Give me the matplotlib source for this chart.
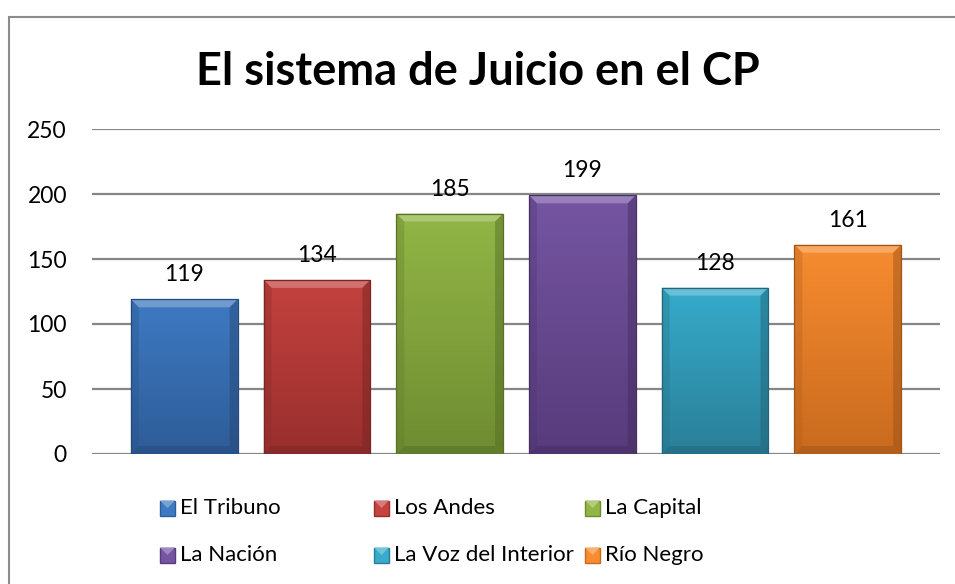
import numpy as np
import matplotlib
matplotlib.use("Agg")
import matplotlib.pyplot as plt
from matplotlib.patches import Polygon, Rectangle
from matplotlib.colors import to_rgb, LinearSegmentedColormap

plt.rcParams['font.family'] = ['Lato', 'DejaVu Sans']

title = "El sistema de Juicio en el CP"
series = ["El Tribuno", "Los Andes", "La Capital", "La Nación", "La Voz del Interior", "Río Negro"]
values = [119, 134, 185, 199, 128, 161]
yticks = [0, 50, 100, 150, 200, 250]
top_colors = ["#3E7AC2", "#C4423F", "#92B646", "#7555A2", "#36ABCB", "#F78C30"]
bot_colors = ["#2E5C98", "#982F2D", "#6E8C31", "#573B7B", "#2A7F98", "#C86A1E"]

W, H, DPI = 955, 584, 100
fig = plt.figure(figsize=(W / DPI, H / DPI), dpi=DPI)
fig.patch.set_facecolor("white")

# outer chart border
fig.patches.append(Rectangle((9 / W, 0 - 0.1), 2.0, 1 - 16.5 / H + 0.1, transform=fig.transFigure,
                             fill=False, edgecolor="#8c8c8c", linewidth=1.5, zorder=0))

L, R, T, B = 92, 940, 129, 454
ax = fig.add_axes([L / W, 1 - B / H, (R - L) / W, (B - T) / H])
ax.set_xlim(-0.695, len(values) - 1 + 0.695)
ax.set_ylim(0, 250)
for s in ax.spines.values():
    s.set_visible(False)
ax.set_xticks([])
ax.set_yticks(yticks)
ax.tick_params(axis="y", length=0, pad=18, labelsize=16.5, labelcolor="black")
ax.yaxis.grid(True, color="#868686", linewidth=1.6)
ax.set_axisbelow(True)

x = np.arange(len(values))
bw = 0.805
bars = ax.bar(x, values, width=bw, color=top_colors, zorder=2, linewidth=0)

px_x = (R - L) / (ax.get_xlim()[1] - ax.get_xlim()[0])
px_y = (B - T) / 250.0
bx = 8 / px_x
by = 8 / px_y

def mix(c, f):
    r = np.array(to_rgb(c))
    if f >= 0:
        return tuple(r + (1 - r) * f)
    return tuple(r * (1 + f))

for i, b in enumerate(bars):
    x0, y0 = b.get_x(), 0
    x1, y1 = x0 + b.get_width(), b.get_height()
    cmap = LinearSegmentedColormap.from_list("g", [bot_colors[i], top_colors[i]])
    grad = np.linspace(0, 1, 256).reshape(-1, 1)
    im = ax.imshow(grad, extent=[x0, x1, y0, y1], origin="lower", aspect="auto",
                   cmap=cmap, zorder=3)
    im.set_clip_path(b)
    face_top = top_colors[i]
    face_bot = bot_colors[i]
    # bevels
    ax.add_patch(Polygon([(x0, y1), (x1, y1), (x1 - bx, y1 - by), (x0 + bx, y1 - by)],
                         closed=True, facecolor=mix(face_top, 0.3), edgecolor="none", zorder=4, alpha=0.85))
    ax.add_patch(Polygon([(x0, y0), (x0, y1), (x0 + bx, y1 - by), (x0 + bx, y0 + by)],
                         closed=True, facecolor=mix(face_bot, -0.1), edgecolor="none", zorder=4, alpha=0.35))
    ax.add_patch(Polygon([(x1, y0), (x1, y1), (x1 - bx, y1 - by), (x1 - bx, y0 + by)],
                         closed=True, facecolor=mix(face_bot, -0.25), edgecolor="none", zorder=4, alpha=0.45))
    ax.add_patch(Polygon([(x0, y0), (x1, y0), (x1 - bx, y0 + by), (x0 + bx, y0 + by)],
                         closed=True, facecolor=mix(face_bot, -0.2), edgecolor="none", zorder=4, alpha=0.5))
    ax.add_patch(Rectangle((x0, y0), x1 - x0, y1 - y0, fill=False,
                           edgecolor=mix(face_bot, -0.2), linewidth=0.9, zorder=5))
    ax.annotate(str(values[i]), (b.get_x() + b.get_width() / 2, y1), xytext=(0, 10),
                textcoords="offset points", ha="center", va="bottom", fontsize=16.5, zorder=6)

ax.set_xlim(-0.695, len(values) - 1 + 0.695)
ax.set_ylim(0, 250)

fig.text(0.5, 1 - 72 / H, title, ha="center", va="center", fontsize=32.5, fontweight="bold")

# legend (3 columns x 2 rows)
col_x = [160, 374, 585]
row_y = [508, 555]
sq = 15
for i, name in enumerate(series):
    r, c = divmod(i, 3)
    mx, my = col_x[c], row_y[r]
    fig.patches.append(Rectangle((mx / W, 1 - (my + sq / 2) / H), sq / W, sq / H,
                                 transform=fig.transFigure, facecolor=top_colors[i],
                                 edgecolor=bot_colors[i], linewidth=1.0))
    fig.patches.append(Polygon([(mx / W, 1 - (my - sq / 2) / H), ((mx + sq) / W, 1 - (my - sq / 2) / H),
                                ((mx + sq / 2) / W, 1 - my / H)], closed=True,
                               transform=fig.transFigure, facecolor=mix(top_colors[i], 0.3),
                               edgecolor="none"))
    fig.text((mx + sq + 5) / W, 1 - my / H, name, ha="left", va="center", fontsize=16)

fig.savefig("out.png", dpi=DPI)
